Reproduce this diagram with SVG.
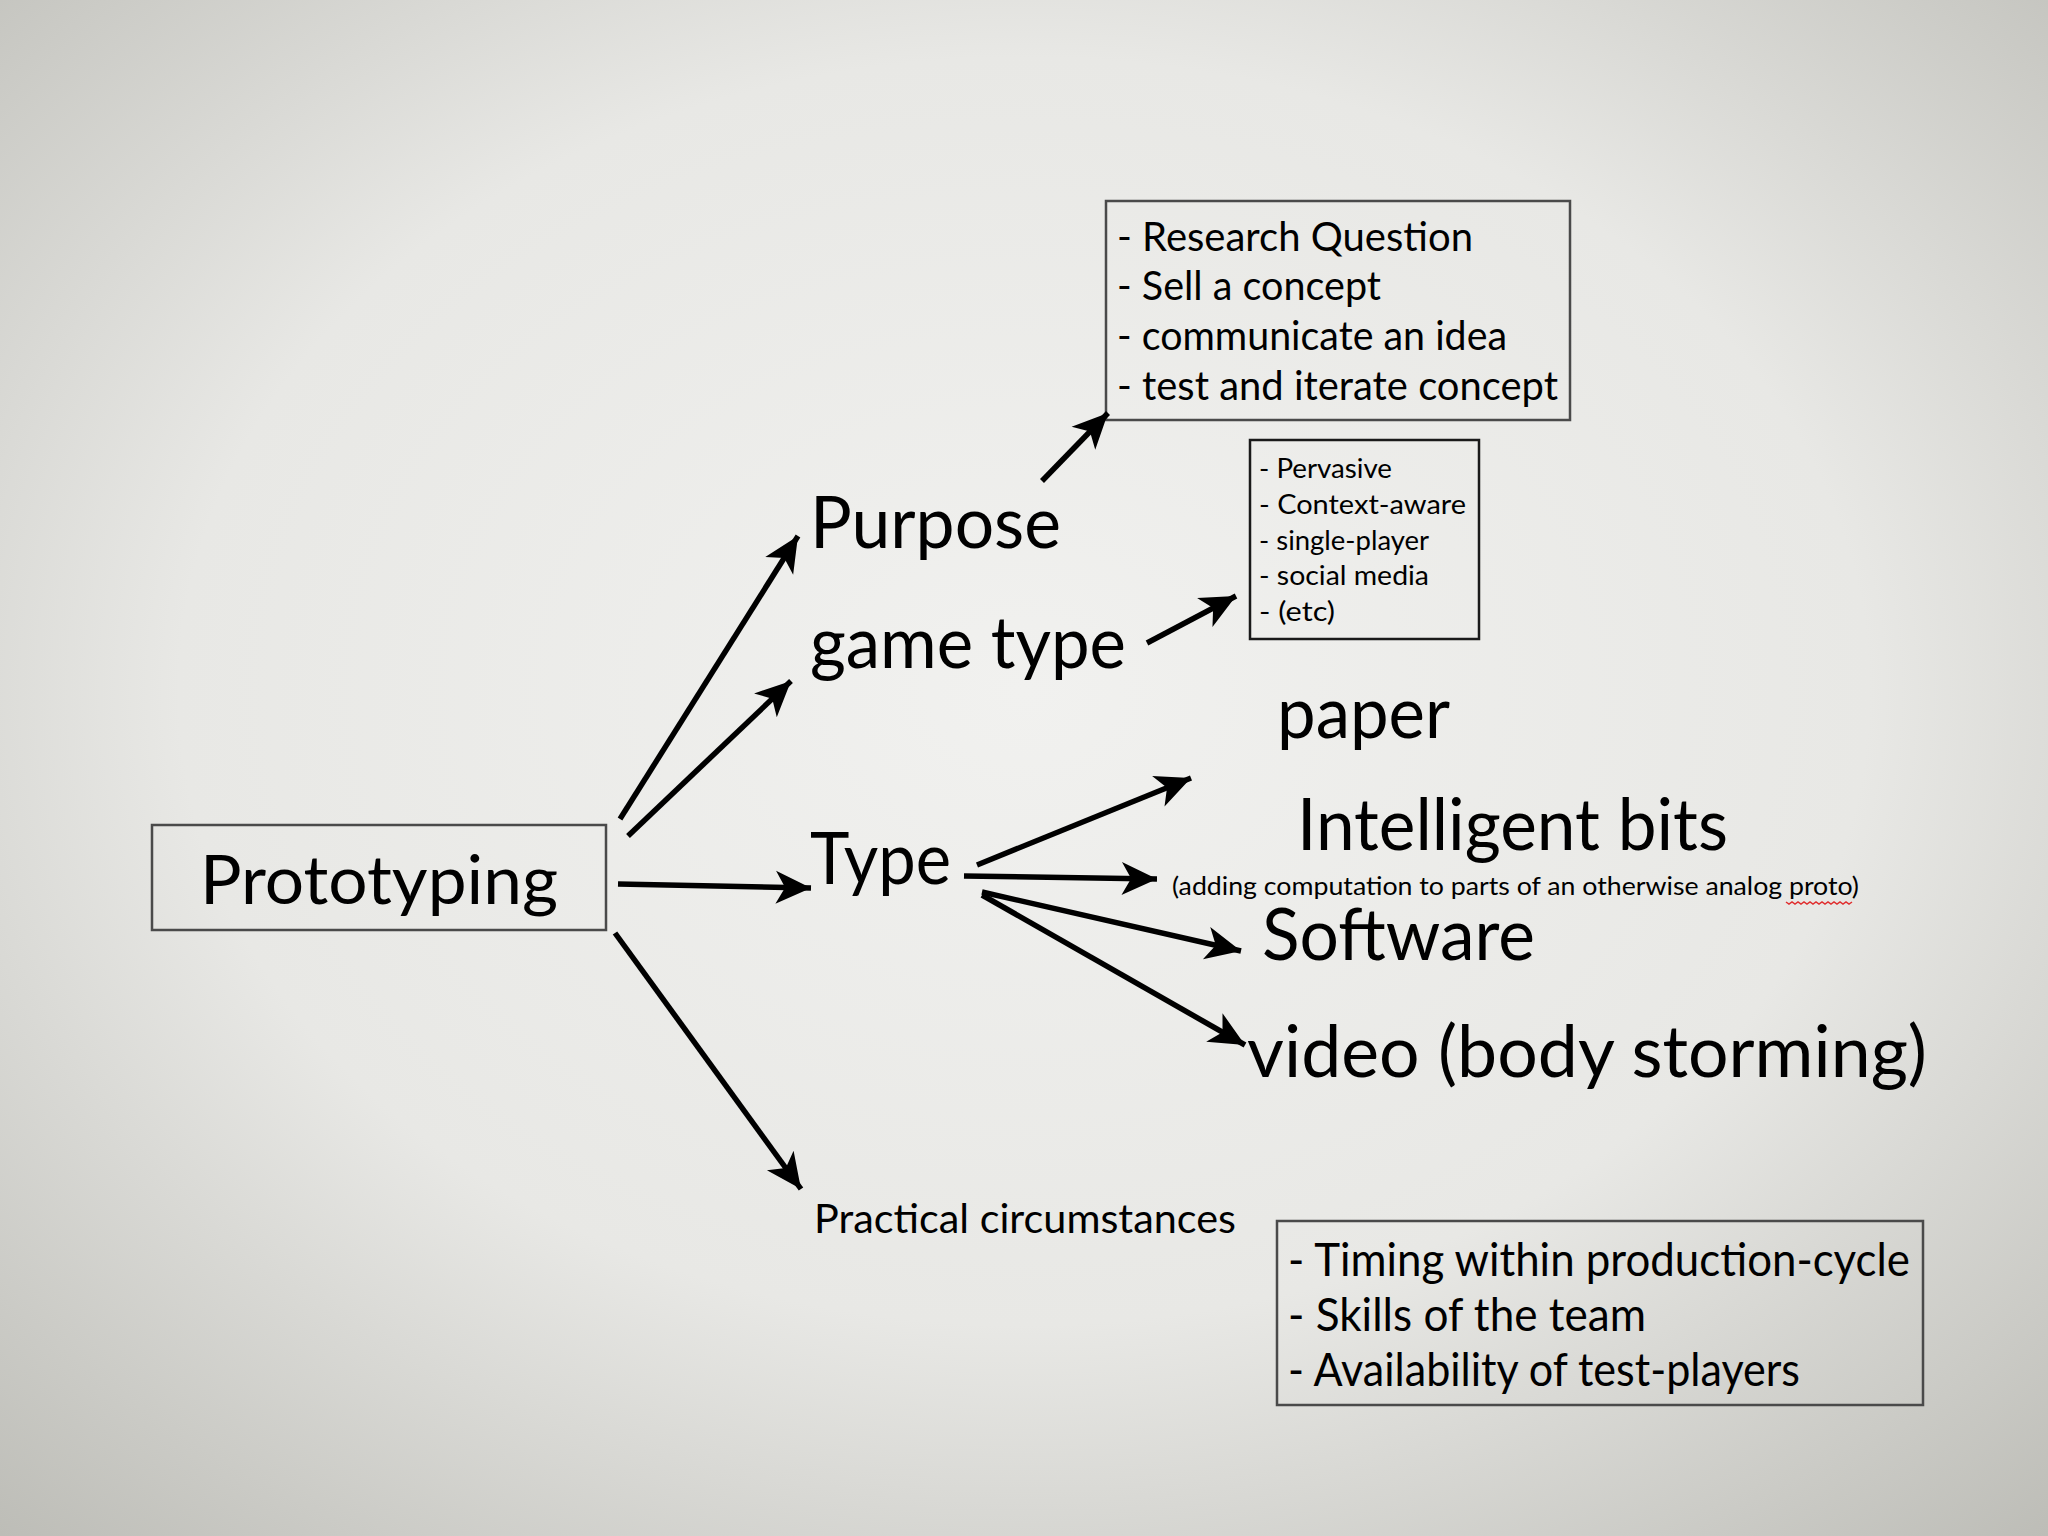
<svg xmlns="http://www.w3.org/2000/svg" width="2048" height="1536" viewBox="0 0 2048 1536">
<defs>
<radialGradient id="bg" cx="0.5" cy="0.45" r="0.75">
<stop offset="0" stop-color="#f1f1ef"/>
<stop offset="0.55" stop-color="#e8e8e5"/>
<stop offset="1" stop-color="#bcbcb6"/>
</radialGradient>
<marker id="ah" markerUnits="userSpaceOnUse" markerWidth="40" markerHeight="40" viewBox="-32 -16 34 32" refX="0" refY="0" orient="auto">
<path d="M0,0 L-30,-14 L-22,0 L-30,14 Z" fill="#000"/>
</marker>
<style>
text{font-family:"Lato","Noto Sans","Liberation Sans",sans-serif;fill:#000}
.big{font-size:72px}
.box{fill:none;stroke:#4a4a4a;stroke-width:2.5}
.l1{font-size:41px}
.l2{font-size:26px}
.l3{font-size:46px}
.arr{stroke:#000;stroke-width:5.5;fill:none;marker-end:url(#ah)}
</style>
</defs>
<rect width="2048" height="1536" fill="url(#bg)"/>

<g id="prototyping">
<rect class="box" x="152" y="825" width="454" height="105"/>
<text x="200" y="904" font-size="68" textLength="358" lengthAdjust="spacingAndGlyphs">Prototyping</text>
</g>

<g id="purpose">
<text class="big" x="810" y="548" textLength="251" lengthAdjust="spacingAndGlyphs">Purpose</text>
</g>

<g id="game-type">
<text class="big" x="810" y="668" textLength="316" lengthAdjust="spacingAndGlyphs">game type</text>
</g>

<g id="type">
<text class="big" x="810" y="884" textLength="141" lengthAdjust="spacingAndGlyphs">Type</text>
</g>

<g id="practical">
<text x="814" y="1233" font-size="40" textLength="422" lengthAdjust="spacingAndGlyphs">Practical circumstances</text>
</g>

<g id="purpose-list">
<rect class="box" x="1106" y="201" width="464" height="219"/>
<text class="l1" x="1117" y="251" textLength="356" lengthAdjust="spacingAndGlyphs">- Research Question</text>
<text class="l1" x="1117" y="300" textLength="264" lengthAdjust="spacingAndGlyphs">- Sell a concept</text>
<text class="l1" x="1117" y="350" textLength="390" lengthAdjust="spacingAndGlyphs">- communicate an idea</text>
<text class="l1" x="1117" y="400" textLength="441" lengthAdjust="spacingAndGlyphs">- test and iterate concept</text>
</g>

<g id="gametype-list">
<rect x="1250" y="440" width="229" height="199" fill="none" stroke="#1a1a1a" stroke-width="2.5"/>
<text class="l2" x="1259" y="478" textLength="133" lengthAdjust="spacingAndGlyphs">- Pervasive</text>
<text class="l2" x="1259" y="514" textLength="207" lengthAdjust="spacingAndGlyphs">- Context-aware</text>
<text class="l2" x="1259" y="550" textLength="170" lengthAdjust="spacingAndGlyphs">- single-player</text>
<text class="l2" x="1259" y="585" textLength="170" lengthAdjust="spacingAndGlyphs">- social media</text>
<text class="l2" x="1259" y="621" textLength="76" lengthAdjust="spacingAndGlyphs">- (etc)</text>
</g>

<g id="paper">
<text class="big" x="1277" y="738" textLength="173" lengthAdjust="spacingAndGlyphs">paper</text>
</g>

<g id="intelligent-bits">
<text class="big" x="1297" y="850" textLength="431" lengthAdjust="spacingAndGlyphs">Intelligent bits</text>
<text x="1172" y="895" font-size="25" textLength="687" lengthAdjust="spacingAndGlyphs">(adding computation to parts of an otherwise analog proto)</text>
<path d="M1786,902 l3,2 l3,-2 l3,2 l3,-2 l3,2 l3,-2 l3,2 l3,-2 l3,2 l3,-2 l3,2 l3,-2 l3,2 l3,-2 l3,2 l3,-2 l3,2 l3,-2 l3,2 l3,-2 l3,2 l3,-2" fill="none" stroke="#e03030" stroke-width="1.5"/>
</g>

<g id="software">
<text class="big" x="1262" y="960" textLength="273" lengthAdjust="spacingAndGlyphs">Software</text>
</g>

<g id="video">
<text class="big" x="1247" y="1077" textLength="680" lengthAdjust="spacingAndGlyphs">video (body storming)</text>
</g>

<g id="circumstances-list">
<rect class="box" x="1277" y="1221" width="646" height="184"/>
<text class="l3" x="1288" y="1276" textLength="622" lengthAdjust="spacingAndGlyphs">- Timing within production-cycle</text>
<text class="l3" x="1288" y="1331" textLength="358" lengthAdjust="spacingAndGlyphs">- Skills of the team</text>
<text class="l3" x="1288" y="1386" textLength="512" lengthAdjust="spacingAndGlyphs">- Availability of test-players</text>
</g>

<g id="connectors">
<line class="arr" x1="620" y1="819" x2="798" y2="536"/>
<line class="arr" x1="628" y1="836" x2="791" y2="681"/>
<line class="arr" x1="618" y1="884" x2="811" y2="888"/>
<line class="arr" x1="615" y1="933" x2="801" y2="1189"/>
<line class="arr" x1="1042" y1="481" x2="1108" y2="413"/>
<line class="arr" x1="1147" y1="643" x2="1236" y2="596"/>
<line class="arr" x1="977" y1="865" x2="1191" y2="778"/>
<line class="arr" x1="964" y1="876" x2="1157" y2="879"/>
<line class="arr" x1="982" y1="892" x2="1241" y2="951"/>
<line class="arr" x1="982" y1="895" x2="1245" y2="1045"/>
</g>
</svg>
